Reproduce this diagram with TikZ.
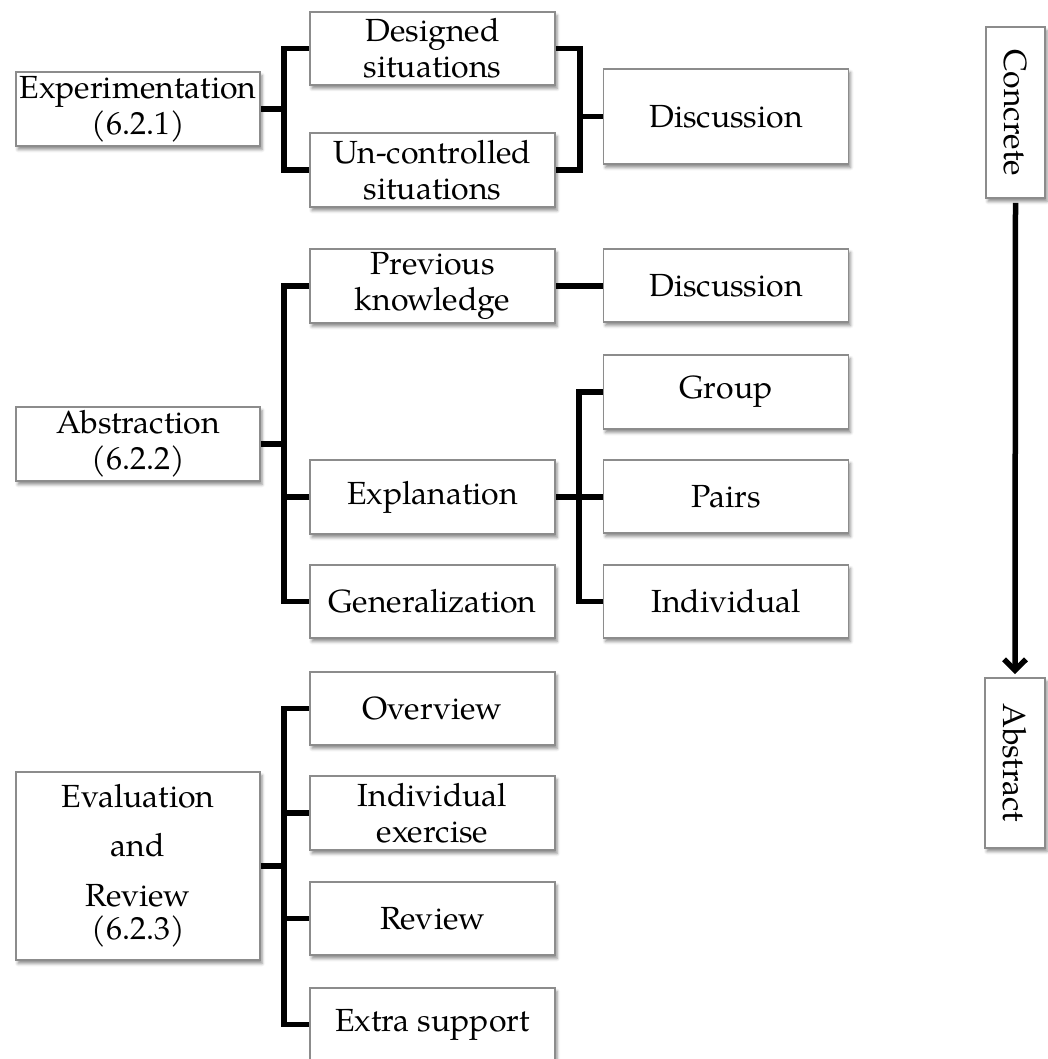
\documentclass[tikz,border=0pt]{standalone}
\usepackage{graphicx}
\usepackage{fontspec}
\setmainfont{texgyrepagella-regular.otf}
\usetikzlibrary{shadows.blur,arrows.meta}
\tikzset{
  box/.style={draw=black!45, line width=1.6pt, fill=white, inner sep=0pt,
    align=center, font=\fontsize{32}{36}\selectfont,
    minimum width=245pt, minimum height=73pt,
    blur shadow={shadow xshift=2pt, shadow yshift=-3.5pt, shadow blur radius=3pt, shadow opacity=45}},
  br/.style={line width=5.5pt, black, line join=miter, line cap=butt},
  arr/.style={line width=5.5pt, black, -{Straight Barb[length=11pt,width=22pt,line width=5.5pt]}}
}
\begin{document}
\begin{tikzpicture}[x=1pt,y=-1pt]
\useasboundingbox (0,0) rectangle (1048,1059);
% stems
\coordinate (s1) at (284,0);
\coordinate (s2) at (580,0);
\coordinate (s3) at (579,0);
% Experimentation section
\node[box, minimum width=244pt, minimum height=74pt] (exp) at (138,109) {Experimentation\\(6.2.1)};
\node[box] (des) at (432.5,48.5) {Designed\\situations};
\node[box, minimum height=74pt] (unc) at (432.5,170) {Un-controlled\\situations};
\node[box, minimum height=95pt] (disc1) at (726,116.5) {Discussion};
% Abstraction section
\node[box, minimum width=244pt, minimum height=74pt] (abs) at (138,444) {Abstraction\\(6.2.2)};
\node[box, minimum height=74pt] (prev) at (432.5,286) {Previous\\knowledge};
\node[box] (disc2) at (726,285.5) {Discussion};
\node[box, minimum height=74pt] (expl) at (432.5,497) {Explanation};
\node[box] (gen) at (432.5,601.5) {Generalization};
\node[box, minimum height=74pt] (group) at (726,392) {Group};
\node[box] (pairs) at (726,496.5) {Pairs};
\node[box] (indiv) at (726,601.5) {Individual};
% Evaluation section
\node[box, minimum width=244pt, minimum height=188pt] (eval) at (138,866) {Evaluation\\[13pt]and\\[14pt]Review\\[-3pt](6.2.3)};
\node[box] (over) at (432.5,708.5) {Overview};
\node[box, minimum height=74pt] (iex) at (432.5,813) {Individual\\exercise};
\node[box] (rev) at (432.5,918.5) {Review};
\node[box] (extra) at (432.5,1024.5) {Extra support};
% Concrete / Abstract
\node[box, minimum width=59pt, minimum height=171pt] (conc) at (1015.5,112.5) {\rotatebox{-90}{Concrete}};
\node[box, minimum width=60pt, minimum height=170pt] (abst) at (1015,763) {\rotatebox{-90}{Abstract}};
% connectors: experimentation
\draw[br] (des.west) -| (s1 |- unc.west) -- (unc.west);
\draw[br] (exp.east) -- (exp.east -| s1);
\draw[br] (des.east) -| (s2 |- unc.east) -- (unc.east);
\draw[br] (disc1.west) -- (disc1.west -| s2);
% abstraction
\draw[br] (prev.west) -| (s1 |- gen.west) -- (gen.west);
\draw[br] (expl.west) -- (expl.west -| s1);
\draw[br] (abs.east) -- (abs.east -| s1);
\draw[br] (prev.east) -- (prev.east -| disc2.west);
\draw[br] (group.west) -| (s3 |- indiv.west) -- (indiv.west);
\draw[br] (expl.east) -- (expl.east -| pairs.west);
% evaluation
\draw[br] (over.west) -| (s1 |- extra.west) -- (extra.west);
\draw[br] (iex.west) -- (iex.west -| s1);
\draw[br] (rev.west) -- (rev.west -| s1);
\draw[br] (eval.east) -- (eval.east -| s1);
% arrow
\draw[arr, shorten <=4pt, shorten >=3pt] (conc.south) -- (abst.north);
\end{tikzpicture}
\end{document}
